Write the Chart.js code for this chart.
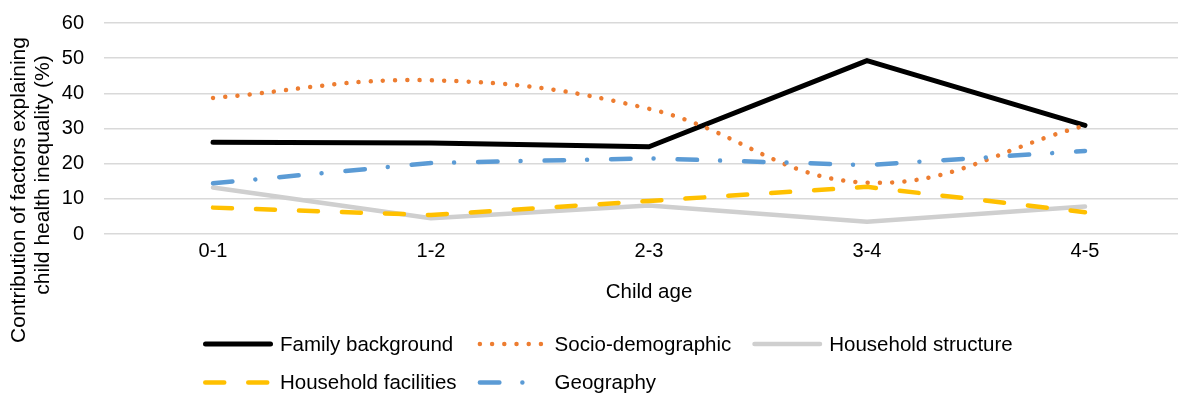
<!DOCTYPE html>
<html>
<head>
<meta charset="utf-8">
<script src="https://cdn.jsdelivr.net/npm/chart.js@4.4.1/dist/chart.umd.min.js"></script>
<style>
  html, body { margin: 0; padding: 0; background: #fff; overflow: hidden; }
  #wrap { position: relative; width: 1194px; height: 394px; }
</style>
</head>
<body>
<div id="wrap"><canvas id="chart"></canvas></div>
<script>
const ages = ['0-1', '1-2', '2-3', '3-4', '4-5'];
const familyBackground = [26.1, 25.9, 24.8, 49.3, 30.9];
const socioDemographic = [38.7, 43.7, 35.6, 14.6, 30.8];
const householdStructure = [13.2, 4.5, 8.1, 3.5, 7.8];
const householdFacilities = [7.5, 5.4, 9.4, 13.4, 6.2];
const geography = [14.4, 20.2, 21.5, 19.6, 23.6];
const yTicks = [0, 10, 20, 30, 40, 50, 60];
const yTitle = ['Contribution of factors explaining', 'child health inequality (%)'];
const xTitle = 'Child age';

Chart.defaults.font.family = '"Liberation Sans", Arial, sans-serif';
Chart.defaults.color = '#000';

// legend drawn like Excel: line samples in a grid, rows left aligned
const lineLegend = {
    id: 'lineLegend',
    afterDraw(chart, args, opts) {
        const ctx = chart.ctx;
        const sets = chart.data.datasets;
        ctx.save();
        ctx.font = opts.font;
        const widths = sets.map(ds => opts.sample + opts.textGap + ctx.measureText(ds.label).width);
        const colW = [];
        sets.forEach((ds, i) => {
            const c = i % opts.columns;
            colW[c] = Math.max(colW[c] || 0, widths[i]);
        });
        sets.forEach((ds, i) => {
            const c = i % opts.columns;
            const r = Math.floor(i / opts.columns);
            let x = opts.left;
            for (let k = 0; k < c; k++) x += colW[k] + opts.colGap;
            const y = opts.top + r * opts.rowHeight;
            const w = ds.borderWidth;
            ctx.save();
            ctx.strokeStyle = ds.borderColor;
            ctx.lineWidth = w;
            ctx.lineCap = ds.borderCapStyle || 'butt';
            ctx.setLineDash(ds.borderDash || []);
            ctx.beginPath();
            ctx.moveTo(x + w / 2, y);
            ctx.lineTo(x + opts.sample - w / 2, y);
            ctx.stroke();
            ctx.restore();
            ctx.fillStyle = '#000';
            ctx.textBaseline = 'middle';
            ctx.fillText(ds.label, x + opts.sample + opts.textGap, y + 1);
        });
        ctx.restore();
    }
};

// two line rotated y title, placed beside the whole chart
const sideTitle = {
    id: 'sideTitle',
    afterDraw(chart, args, opts) {
        const ctx = chart.ctx;
        ctx.save();
        ctx.font = opts.font;
        ctx.fillStyle = '#000';
        ctx.textAlign = 'center';
        ctx.textBaseline = 'middle';
        opts.lines.forEach((t, i) => {
            ctx.save();
            ctx.translate(opts.x[i], opts.y[i]);
            ctx.rotate(-Math.PI / 2);
            ctx.fillText(t, 0, 0);
            ctx.restore();
        });
        ctx.restore();
    }
};

new Chart(document.getElementById('chart'), {
    type: 'line',
    data: {
        labels: ages,
        datasets: [
            {
                label: 'Family background',
                data: familyBackground,
                borderColor: '#000000',
                borderWidth: 5,
                borderCapStyle: 'round',
                borderJoinStyle: 'round',
                order: 5
            },
            {
                label: 'Socio-demographic',
                data: socioDemographic,
                borderColor: '#ED7D31',
                borderWidth: 4.5,
                borderDash: [0.01, 12.2],
                borderCapStyle: 'round',
                tension: 0.4,
                order: 4
            },
            {
                label: 'Household structure',
                data: householdStructure,
                borderColor: '#CFCFCF',
                borderWidth: 4.5,
                borderCapStyle: 'round',
                borderJoinStyle: 'round',
                order: 3
            },
            {
                label: 'Household facilities',
                data: householdFacilities,
                borderColor: '#FFC000',
                borderWidth: 4.5,
                borderDash: [19, 24],
                borderCapStyle: 'round',
                order: 2
            },
            {
                label: 'Geography',
                data: geography,
                borderColor: '#5B9BD5',
                borderWidth: 4.5,
                borderDash: [19.5, 23, 0.01, 24],
                borderCapStyle: 'round',
                order: 1
            }
        ]
    },
    options: {
        responsive: true,
        maintainAspectRatio: false,
        animation: false,
        layout: { padding: { top: 23, right: 0, bottom: 89, left: 0 } },
        elements: { point: { radius: 0 }, line: { tension: 0 } },
        plugins: {
            legend: { display: false },
            tooltip: { enabled: false },
            lineLegend: {
                font: '20.5px "Liberation Sans", Arial, sans-serif',
                left: 203, top: 344, rowHeight: 38.5,
                columns: 3, sample: 70, textGap: 7, colGap: 21
            },
            sideTitle: {
                font: '21px "Liberation Sans", Arial, sans-serif',
                lines: yTitle,
                x: [19, 43],
                y: [190, 175]
            }
        },
        scales: {
            x: {
                offset: true,
                grid: { display: false, drawTicks: false },
                border: { display: false },
                ticks: { padding: 5, font: { size: 20 }, maxRotation: 0 },
                title: { display: true, text: xTitle, font: { size: 20.5 }, padding: 0 },
                afterFit(s) { s.height = 71; }
            },
            y: {
                min: 0,
                max: 60,
                afterBuildTicks(s) { s.ticks = yTicks.map(v => ({ value: v })); },
                ticks: { padding: 20, font: { size: 20 } },
                grid: { color: '#D9D9D9', lineWidth: 1.5, drawTicks: false },
                border: { display: false },
                afterFit(s) {
                    s.width = 104;
                    s.paddingTop = 12;
                    s.paddingBottom = 12;
                }
            }
        }
    },
    plugins: [lineLegend, sideTitle]
});
</script>
</body>
</html>
